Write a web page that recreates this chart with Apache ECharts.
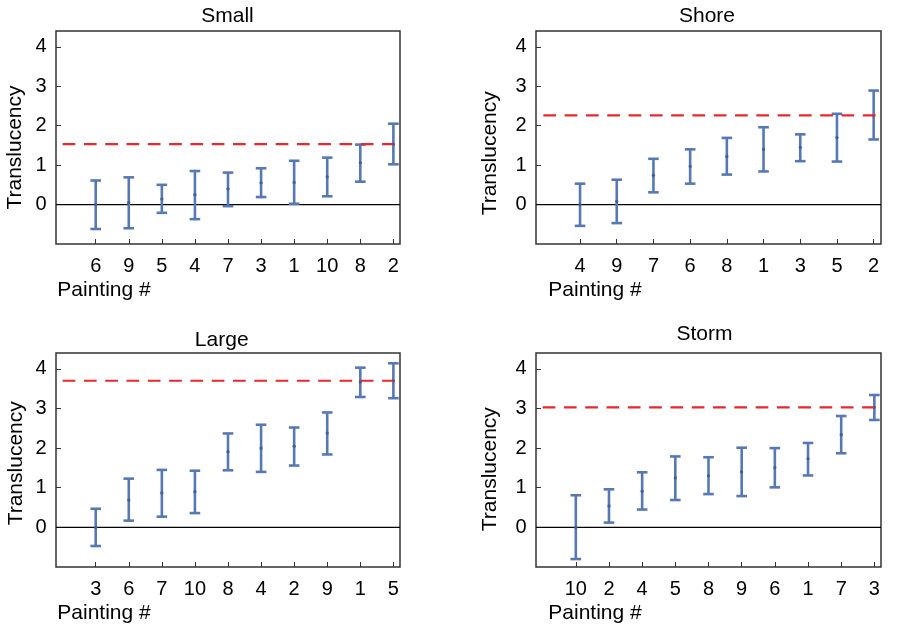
<!DOCTYPE html>
<html>
<head>
<meta charset="utf-8">
<script src="https://cdn.jsdelivr.net/npm/echarts@6/dist/echarts.min.js"></script>
<style>
html,body{margin:0;padding:0;background:#fff;}
#chart{width:910px;height:627px;}
</style>
</head>
<body>
<div id="chart"></div>
<script>
// ---- Data ----
const panelTitles = ['Small', 'Shore', 'Large', 'Storm'];

const smallCats = ['6', '9', '5', '4', '7', '3', '1', '10', '8', '2'];
const smallMid  = [0.00, 0.05, 0.14, 0.25, 0.40, 0.55, 0.56, 0.70, 1.06, 1.53];
const smallLow  = [-0.62, -0.60, -0.21, -0.37, -0.04, 0.19, 0.02, 0.21, 0.58, 1.02];
const smallHigh = [0.61, 0.69, 0.50, 0.85, 0.81, 0.92, 1.11, 1.19, 1.52, 2.05];
const smallRef  = 1.53;

const shoreCats = ['4', '9', '7', '6', '8', '1', '3', '5', '2'];
const shoreMid  = [0.00, 0.08, 0.74, 0.97, 1.22, 1.40, 1.45, 1.70, 2.26];
const shoreLow  = [-0.54, -0.47, 0.31, 0.53, 0.76, 0.84, 1.10, 1.09, 1.65];
const shoreHigh = [0.53, 0.63, 1.16, 1.40, 1.69, 1.96, 1.78, 2.30, 2.89];
const shoreRef  = 2.26;

const largeCats = ['3', '6', '7', '10', '8', '4', '2', '9', '1', '5'];
const largeMid  = [0.00, 0.69, 0.87, 0.90, 1.91, 2.00, 2.05, 2.38, 3.67, 3.70];
const largeLow  = [-0.47, 0.17, 0.27, 0.36, 1.44, 1.40, 1.56, 1.84, 3.29, 3.26];
const largeHigh = [0.47, 1.23, 1.45, 1.43, 2.37, 2.59, 2.52, 2.90, 4.03, 4.14];
const largeRef  = 3.70;

const stormCats = ['10', '2', '4', '5', '8', '9', '6', '1', '7', '3'];
const stormMid  = [0.00, 0.54, 0.91, 1.25, 1.30, 1.40, 1.51, 1.73, 2.34, 3.03];
const stormLow  = [-0.80, 0.12, 0.45, 0.69, 0.84, 0.79, 1.01, 1.31, 1.87, 2.71];
const stormHigh = [0.81, 0.96, 1.39, 1.79, 1.77, 2.01, 2.00, 2.13, 2.81, 3.34];
const stormRef  = 3.03;

const yTicks = [0, 1, 2, 3, 4];
const xAxisName = 'Painting #';
const yAxisName = 'Translucency';

// ---- Layout / style ----
const FONT = "'Liberation Sans', Arial, sans-serif";
const BAR = '#5679b5';
const DOT = '#3f5e98';
const RED = '#e8282c';
const FRAME = '#333';

const panels = [
  {cats: smallCats, mid: smallMid, low: smallLow, high: smallHigh, ref: smallRef,
   grid: {left: 56, top: 31, width: 344, height: 213}, titleX: 227.5, titleTop: 6,
   yNameGap: 30, yNameShift: 10, xNameGap: -1.3},
  {cats: shoreCats, mid: shoreMid, low: shoreLow, high: shoreHigh, ref: shoreRef,
   grid: {left: 536, top: 31, width: 345, height: 213}, titleX: 707, titleTop: 6,
   yNameGap: 35, yNameShift: 15.8, xNameGap: -12.3},
  {cats: largeCats, mid: largeMid, low: largeLow, high: largeHigh, ref: largeRef,
   grid: {left: 56, top: 353, width: 344, height: 214}, titleX: 221.7, titleTop: 329.5,
   yNameGap: 29.5, yNameShift: 3.3, xNameGap: -1.3},
  {cats: stormCats, mid: stormMid, low: stormLow, high: stormHigh, ref: stormRef,
   grid: {left: 536, top: 353, width: 345, height: 214}, titleX: 704.5, titleTop: 323.5,
   yNameGap: 35, yNameShift: 9.2, xNameGap: -12.3}
];

function renderErrorBar(params, api) {
  const x = api.value(0);
  const pLo = api.coord([x, api.value(1)]);
  const pMid = api.coord([x, api.value(2)]);
  const pHi = api.coord([x, api.value(3)]);
  const hw = 5.3;
  const st = {stroke: BAR, lineWidth: 2.6};
  return {
    type: 'group',
    children: [
      {type: 'line', shape: {x1: pLo[0], y1: pLo[1], x2: pHi[0], y2: pHi[1]}, style: st},
      {type: 'line', shape: {x1: pHi[0] - hw, y1: pHi[1], x2: pHi[0] + hw, y2: pHi[1]}, style: st},
      {type: 'line', shape: {x1: pLo[0] - hw, y1: pLo[1], x2: pLo[0] + hw, y2: pLo[1]}, style: st},
      {type: 'circle', shape: {cx: pMid[0], cy: pMid[1], r: 1.6}, style: {fill: DOT}}
    ]
  };
}

const option = {
  animation: false,
  backgroundColor: '#fff',
  title: [], grid: [], xAxis: [], yAxis: [], series: []
};

panels.forEach((p, k) => {
  const n = p.cats.length;
  const xMin = -1.2, xMax = n - 0.8;
  const idx = p.cats.map((_, i) => i);
  option.title.push({
    text: panelTitles[k], left: p.titleX, top: p.titleTop, textAlign: 'center', padding: 0,
    textStyle: {fontFamily: FONT, fontSize: 21, fontWeight: 'normal', color: '#000'}
  });
  option.grid.push(Object.assign({show: true, borderColor: FRAME, borderWidth: 1.5,
    backgroundColor: 'transparent', containLabel: false}, p.grid));
  option.xAxis.push({
    type: 'value', gridIndex: k, min: xMin, max: xMax, position: 'bottom',
    name: xAxisName, nameLocation: 'start', nameGap: p.xNameGap,
    nameTextStyle: {fontFamily: FONT, fontSize: 21, color: '#000', align: 'left',
      verticalAlign: 'top', padding: [36, 0, 0, 0]},
    axisLine: {show: false, onZero: false},
    axisTick: {show: true, inside: true, length: 5, customValues: idx,
      lineStyle: {color: FRAME, width: 1}},
    axisLabel: {show: true, customValues: idx, margin: 12, fontFamily: FONT, fontSize: 20,
      color: '#000', formatter: v => p.cats[Math.round(v)]},
    splitLine: {show: false}
  });
  option.yAxis.push({
    type: 'value', gridIndex: k, min: -1, max: 4.4, position: 'left',
    name: yAxisName, nameLocation: 'middle', nameGap: p.yNameGap,
    nameTextStyle: {fontFamily: FONT, fontSize: 21, color: '#000',
      padding: [0, 2 * p.yNameShift, 0, 0]},
    axisLine: {show: false, onZero: false},
    axisTick: {show: true, inside: true, length: 5, customValues: yTicks,
      lineStyle: {color: FRAME, width: 1}},
    axisLabel: {show: true, customValues: yTicks, margin: 9.3, fontFamily: FONT, fontSize: 20,
      color: '#000'},
    splitLine: {show: false}
  });
  // zero line
  option.series.push({
    type: 'line', xAxisIndex: k, yAxisIndex: k, z: 1, silent: true,
    symbol: 'none', data: [[xMin, 0], [xMax, 0]],
    lineStyle: {color: '#000', width: 1.2}
  });
  // error bars
  option.series.push({
    type: 'custom', xAxisIndex: k, yAxisIndex: k, z: 2,
    renderItem: renderErrorBar,
    encode: {x: 0, y: [1, 2, 3]},
    data: idx.map(i => [i, p.low[i], p.mid[i], p.high[i]])
  });
  // reference dashed line (spans positions -1..9)
  option.series.push({
    type: 'line', xAxisIndex: k, yAxisIndex: k, z: 3, silent: true, clip: false,
    symbol: 'none', data: [[-1, p.ref], [9, p.ref]],
    lineStyle: {color: RED, width: 2.2, type: [12.7, 8.6]}
  });
});

const chart = echarts.init(document.getElementById('chart'), null, {renderer: 'canvas'});
chart.setOption(option);
</script>
</body>
</html>
